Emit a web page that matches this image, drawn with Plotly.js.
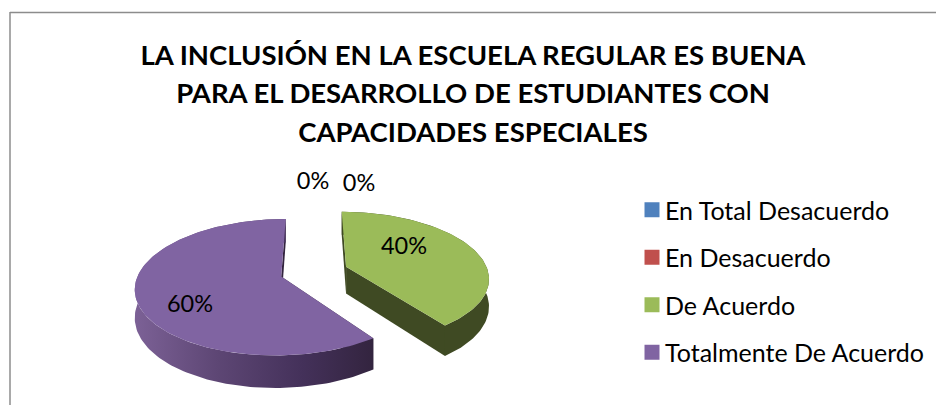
<!DOCTYPE html>
<html><head><meta charset="utf-8">
<script src="https://cdn.plot.ly/plotly-3.0.1.min.js"></script>
<style>html,body{margin:0;padding:0;background:#fff}#c{width:936px;height:405px}</style>
</head><body><div id="c"></div>
<script>
const categories = ['En Total Desacuerdo','En Desacuerdo','De Acuerdo','Totalmente De Acuerdo'];
const values = [0,0,40,60];
const colors = ['#4f81bd','#c0504d','#9bbb59','#8064a2'];
const titleLines = ['LA INCLUSIÓN EN LA ESCUELA REGULAR ES BUENA','PARA EL DESARROLLO DE ESTUDIANTES CON','CAPACIDADES ESPECIALES'];
const labelX = [313,359,404,190];
const labelY = [183.5,185.5,248.5,306.5];

// perspective view of the exploded pie
const cx=314, cy=271.5, A=142, B=65, k=0.157, depth=27, pull=0.24;
const project=(X,Z,h)=>{const s=1-k*Z;return [cx+A*X/s, cy+(B*Z+(h||0))/s];};
const total=values.reduce((a,b)=>a+b,0);
let traces=[], start=0;
const slices=values.map((v,i)=>{
  const a0=start, a1=start+v/total*2*Math.PI; start=a1;
  const mid=(a0+a1)/2;
  return {i,a0,a1,ox:pull*Math.sin(mid),oz:-pull*Math.cos(mid)};
});
const rim=(s,t)=>[s.ox+Math.sin(t),s.oz-Math.cos(t)];
function poly(pts){return {x:pts.map(p=>p[0]),y:pts.map(p=>p[1])};}
function arc(s,t0,t1,h){const n=Math.max(2,Math.ceil(Math.abs(t1-t0)*40)),o=[];
  for(let j=0;j<=n;j++){const t=t0+(t1-t0)*j/n,r=rim(s,t);o.push(project(r[0],r[1],h));}return o;}
function fillTrace(pts,color,extra){return Object.assign({type:'scatter',mode:'lines',...poly(pts),fill:'toself',
  fillcolor:color,line:{width:0,color:color},showlegend:false,hoverinfo:'skip'},extra||{});}

const wallGradient={type:'horizontal',colorscale:[[0,'#7c6196'],[0.35,'#5d4674'],[0.7,'#44315a'],[1,'#33243f']]};
const shades={2:'#3f4a23',3:'#33243f'};
slices.forEach(s=>{
  if(values[s.i]===0) return;
  const apexTop=project(s.ox,s.oz,0), apexBot=project(s.ox,s.oz,depth);
  const startTop=arc(s,s.a0,s.a0,0)[0], startBot=arc(s,s.a0,s.a0,depth)[0];
  const endTop=arc(s,s.a1,s.a1,0)[0], endBot=arc(s,s.a1,s.a1,depth)[0];
  traces.push(fillTrace([apexTop,startTop,startBot,apexBot],shades[s.i]));
  traces.push(fillTrace([apexTop,endTop,endBot,apexBot],shades[s.i]));
  const upper=arc(s,s.a0,s.a1,0), lower=arc(s,s.a1,s.a0,depth);
  const wall=fillTrace(upper.concat(lower),shades[s.i]);
  if(s.i===3){wall.fillgradient=Object.assign({},wallGradient); delete wall.fillcolor;}
  traces.push(wall);
  traces.push(fillTrace([apexTop].concat(upper),colors[s.i]));
});
categories.forEach((c,i)=>traces.push({type:'scatter',mode:'markers',x:[null],y:[null],name:c,legendgroup:c,
  marker:{symbol:'square',size:15,color:colors[i]},hoverinfo:'skip'}));
traces.push({type:'scatter',mode:'text',x:labelX,y:labelY,
  text:values.map(v=>Math.round(v/total*100)+'%'),textposition:'middle center',
  textfont:{family:'Lato, Carlito, sans-serif',size:23.5,color:'#000'},showlegend:false,hoverinfo:'skip'});

const layout={
  width:936,height:405,margin:{l:0,r:0,t:0,b:0},paper_bgcolor:'#fff',plot_bgcolor:'#fff',
  xaxis:{range:[0,936],visible:false,fixedrange:true},
  yaxis:{range:[405,0],visible:false,fixedrange:true},
  title:{text:titleLines.map(t=>'<span style="font-size:27.5px">'+t+'</span>').join('<br>'),x:473/936,xanchor:'center',y:1-65/405,yanchor:'middle',
    font:{family:'Lato, Carlito, sans-serif',size:29.6,color:'#000',weight:700}},
  legend:{x:625/936,xanchor:'left',y:1-187/405,yanchor:'top',font:{family:'Lato, Carlito, sans-serif',size:25,color:'#000'},
    tracegroupgap:12,itemwidth:30,bgcolor:'rgba(0,0,0,0)'},
  shapes:[
    {type:'line',xref:'paper',yref:'paper',x0:10/936,x1:1,y0:1-12.5/405,y1:1-12.5/405,line:{color:'#8c8c8c',width:1.5}},
    {type:'line',xref:'paper',yref:'paper',x0:10/936,x1:10/936,y0:0,y1:1-12/405,line:{color:'#8c8c8c',width:1.5}}
  ]
};
Plotly.newPlot('c',traces,layout,{displayModeBar:false,staticPlot:true}).then(gd=>{
  gd.querySelectorAll('.legend path.scatterpts').forEach(p=>p.setAttribute('transform','translate(27,0)'));
});
</script></body></html>
